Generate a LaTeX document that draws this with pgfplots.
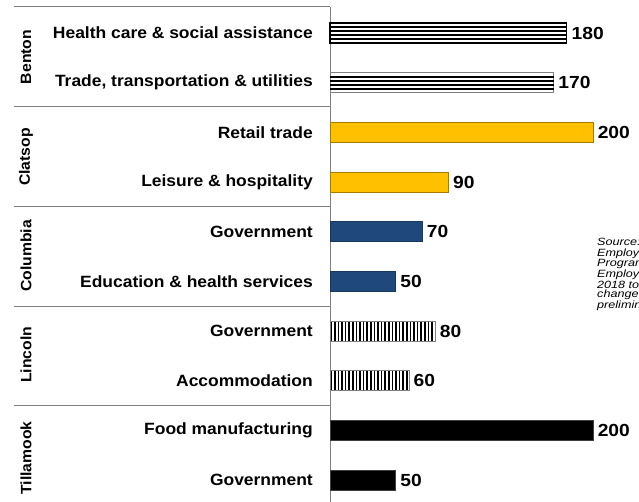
\documentclass[border=0pt]{standalone}
\usepackage{fontspec}
\setmainfont{Liberation Sans}
\newfontfamily\lblfont{Liberation Sans}[FakeStretch=1.07]
\newfontfamily\numfont{Liberation Sans}[FakeStretch=1.1]
\newfontfamily\ctyfont{Liberation Sans}[FakeStretch=1.05]
\newfontfamily\srcfont{Liberation Sans}[FakeStretch=1.2]
\usepackage{pgfplots}
\pgfplotsset{compat=1.18}
\usetikzlibrary{patterns.meta}

\definecolor{gold}{HTML}{FFC000}
\definecolor{goldedge}{HTML}{A67C00}
\definecolor{navy}{HTML}{1F497D}
\definecolor{navyedge}{HTML}{17375E}
\definecolor{framegray}{HTML}{808080}

\newcommand{\lbl}{\lblfont\fontsize{16.3}{19}\selectfont\bfseries}
\newcommand{\num}{\numfont\fontsize{17.5}{20}\selectfont\bfseries}
\newcommand{\cty}{\ctyfont\fontsize{15}{18}\selectfont\bfseries}

\pgfplotsset{
    valbar/.style={nodes near coords,
        every node near coord/.append style={font=\num, anchor=west, xshift=1pt}},
    stripe/.style={draw=none, fill=black, bar width=2pt, bar shift=#1},
}

\begin{document}
\begin{tikzpicture}
\begin{axis}[
    at={(330pt,-502pt)}, anchor=south west,
    scale only axis,
    width=302.5pt, height=495pt,
    xmin=0, xmax=230,
    ymin=-0.523, ymax=9.437,
    y dir=reverse,
    xbar, bar width=20pt, bar shift=0pt,
    axis x line=none,
    axis y line*=left,
    y axis line style={draw=framegray, line width=1pt, -},
    ytick={0,...,9},
    yticklabels={
        Health care \& social assistance,
        {Trade, transportation \& utilities},
        Retail trade,
        Leisure \& hospitality,
        Government,
        Education \& health services,
        Government,
        Accommodation,
        Food manufacturing,
        Government},
    major tick length=0pt,
    yticklabel style={font=\lbl, anchor=east, inner sep=0pt, xshift=-17pt},
    /pgf/number format/assume math mode=true,
    clip=false,
]
% Benton: white bars with horizontal black stripes
\addplot[valbar, draw=black, fill=white, line width=1.2pt] coordinates {(180,0)};
\addplot[stripe=-6pt] coordinates {(180,0)};
\addplot[stripe=-2pt] coordinates {(180,0)};
\addplot[stripe=2pt]  coordinates {(180,0)};
\addplot[stripe=6pt]  coordinates {(180,0)};
\addplot[valbar, draw=framegray, fill=white, line width=1pt] coordinates {(170,1)};
\addplot[stripe=-6pt] coordinates {(170,1)};
\addplot[stripe=-2pt] coordinates {(170,1)};
\addplot[stripe=2pt]  coordinates {(170,1)};
\addplot[stripe=6pt]  coordinates {(170,1)};
% Clatsop
\addplot[valbar, draw=goldedge, fill=gold, line width=0.8pt]
    coordinates {(200,2) (90,3)};
% Columbia
\addplot[valbar, draw=navyedge, fill=navy, line width=0.8pt]
    coordinates {(70,4) (50,5)};
% Lincoln
\addplot[valbar, draw=framegray, line width=0.8pt,
    pattern={Lines[angle=90, distance=3.6pt, line width=1.6pt]}]
    coordinates {(80,6) (60,7)};
% Tillamook
\addplot[valbar, draw=black!75, fill=black, line width=0.8pt]
    coordinates {(200,8) (50,9)};
\end{axis}

% group frame
\draw[framegray, line width=1pt] (14pt,-7pt) -- (330pt,-7pt);
\foreach \yy in {107,207,306,405}
    \draw[framegray, line width=1pt] (14pt,-\yy pt) -- (330pt,-\yy pt);

% county labels
\node[rotate=90, font=\cty] at (26pt,-57pt) {Benton};
\node[rotate=90, font=\cty] at (26pt,-157pt) {Clatsop};
\node[rotate=90, font=\cty] at (26pt,-256pt) {Columbia};
\node[rotate=90, font=\cty] at (26pt,-355pt) {Lincoln};
\node[rotate=90, font=\cty] at (26pt,-458pt) {Tillamook};

% source note (cut off at the right edge, as in the original)
\node[anchor=north west, align=left, inner sep=0pt,
      font=\srcfont\fontsize{10.5}{9.5}\selectfont\itshape] at (597pt,-238pt)
    {Source: Oregon\\
     Employment Department, Current\\
     Program; Current\\
     Employment Statistics, June\\
     2018 to June 2019\\
     change; 2019 data are\\
     preliminary.};

\pgfresetboundingbox
\path[use as bounding box] (0pt,0pt) rectangle (639pt,-502pt);
\end{tikzpicture}
\end{document}
